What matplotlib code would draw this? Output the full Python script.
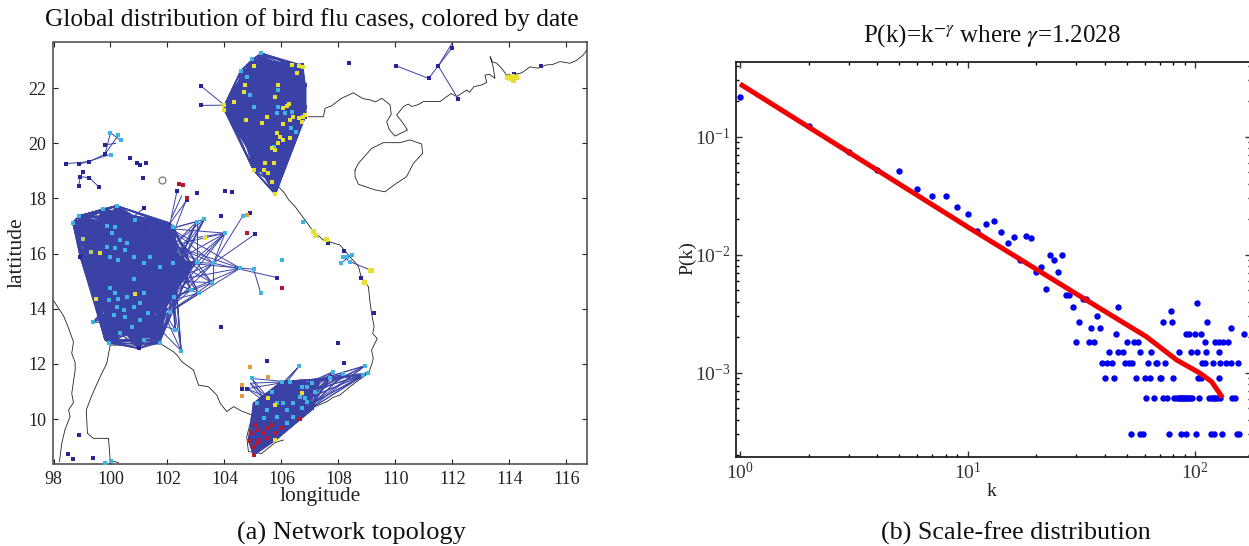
from itertools import combinations
import matplotlib
matplotlib.use('Agg')
import matplotlib.pyplot as plt
from matplotlib.collections import LineCollection

# ---- canvas ----
W, H = 1249, 546
plt.rcParams['font.family'] = ['Liberation Serif', 'DejaVu Serif']
plt.rcParams['mathtext.fontset'] = 'stix'

# ---- right panel data: degree distribution ----
k_vals = [1, 2, 3, 4, 5, 6, 7, 8, 9, 10, 11, 12, 13, 14, 15, 16, 17, 18, 19, 20, 21, 22, 23, 24, 25, 26,
          27, 28, 29, 30, 31, 32, 33, 34, 35, 36, 37, 38, 46, 45, 50, 54, 56, 42, 46, 48, 57, 64, 85, 96, 102, 111, 127,
          110, 122, 127, 132, 139, 91, 94, 100, 106, 164, 143, 72, 79, 113, 78, 102,
          39, 41, 43, 49, 51, 53, 62, 67, 68, 74, 107, 110, 120, 129, 136, 144, 154,
          40, 44, 55, 60, 63, 70, 71, 80, 103, 106, 127,
          61, 66, 72, 75, 81, 83, 85, 86, 87, 88, 89, 90, 92, 93, 95, 97, 104, 115, 118, 120, 122, 125, 128, 145, 149,
          52, 57, 59, 77, 87, 91, 101, 117, 121, 131, 152, 156]
p_vals = [0.216, 0.123, 0.0746, 0.0522, 0.0515, 0.0363, 0.0313, 0.0314, 0.0252, 0.022, 0.0159, 0.0183, 0.0194,
          0.01556, 0.01265, 0.0141, 0.00902, 0.0144, 0.01387, 0.00718, 0.00781, 0.00509, 0.00989, 0.00902, 0.00718, 0.01,
          0.00453, 0.00453, 0.00362, 0.00181, 0.0027, 0.00422, 0.00422, 0.00181, 0.0024, 0.00181, 0.0030, 0.0024,
          0.00361, 0.00211, 0.00181, 0.00181, 0.00181, 0.00151, 0.00151, 0.00151, 0.00151, 0.00151, 0.00151, 0.00151, 0.00151, 0.00151, 0.00151,
          0.00181, 0.00181, 0.00181, 0.00181, 0.00181, 0.00211, 0.00211, 0.00211, 0.00211, 0.00211, 0.0024, 0.0027, 0.0027, 0.0027, 0.00331, 0.00392,
          0.0012, 0.0012, 0.0012, 0.0012, 0.0012, 0.0012, 0.0012, 0.0012, 0.0012, 0.0012, 0.0012, 0.0012, 0.0012, 0.0012, 0.0012, 0.0012, 0.0012,
          0.0009, 0.0009, 0.0009, 0.0009, 0.0009, 0.0009, 0.0009, 0.0009, 0.0009, 0.0009, 0.0009,
          0.000606, 0.000606, 0.000606, 0.000606, 0.000606, 0.000606, 0.000606, 0.000606, 0.000606, 0.000606, 0.000606, 0.000606,
          0.000606, 0.000606, 0.000606, 0.000606, 0.000606, 0.000606, 0.000606, 0.000606, 0.000606, 0.000606, 0.000606, 0.000606, 0.000606,
          0.000303, 0.000303, 0.000303, 0.000303, 0.000303, 0.000303, 0.000303, 0.000303, 0.000303, 0.000303, 0.000303, 0.000303]
fit_k = [1, 10, 30, 61, 83, 105, 118, 132]
fit_p = [0.28, 0.0172, 0.00466, 0.00202, 0.00128, 0.00099, 0.00084, 0.000614]

# ---- left panel data: coastlines (lon, lat) ----
coast_north = [(116.71, 23.38), (116.59, 23.2), (116.35, 23.0), (116.12, 22.9), (115.77, 22.96), (115.5, 22.85), (115.3, 22.84),
               (115.0, 22.72), (114.72, 22.77), (114.5, 22.6), (114.37, 22.53), (113.9, 22.47), (113.73, 22.71), (113.55, 22.9),
               (113.4, 22.95), (113.32, 23.14), (113.42, 22.8), (113.49, 22.35), (113.3, 22.5), (113.14, 22.47), (113.2, 22.2), (113.02, 22.11),
               (112.75, 22.05), (112.6, 21.85), (112.5, 21.93), (112.15, 21.69), (111.95, 21.8), (111.8, 21.69), (111.56, 21.51), (110.98, 21.51),
               (110.8, 21.4), (110.57, 21.33), (110.45, 21.42), (110.28, 21.33), (110.04, 21.02), (110.25, 20.75), (110.42, 20.48), (109.98, 20.26),
               (109.78, 20.5), (109.69, 20.78), (109.85, 21.05), (109.81, 21.39), (109.52, 21.63), (109.3, 21.5), (109.11, 21.57), (108.85, 21.62),
               (108.52, 21.83), (108.3, 21.72), (108.11, 21.63), (107.75, 21.35), (107.53, 21.27), (107.47, 20.96), (106.94, 20.96)]
coast_east = [(105.78, 18.55), (106.1, 18.2), (106.25, 17.95), (106.48, 17.7), (106.8, 17.25), (107.12, 16.8), (107.47, 16.49), (108.05, 16.31),
              (108.4, 15.89), (108.7, 15.53), (108.81, 15.1), (109.05, 14.8), (109.1, 14.3), (109.16, 13.83), (109.25, 13.35), (109.2, 13.1), (109.36, 12.92),
              (109.16, 12.5), (109.22, 12.2), (109.16, 11.96), (109.05, 11.66), (108.7, 11.4), (108.4, 11.17), (108.05, 10.87), (107.8, 10.78), (107.59, 10.63),
              (107.18, 10.45), (107.0, 10.39)]
coast_south = [(106.07, 9.24), (105.78, 9.15), (105.3, 8.75), (104.84, 8.82), (104.78, 9.36), (104.9, 9.84), (104.96, 10.15)]
coast_gulf = [(104.96, 10.15), (104.62, 10.28), (104.32, 10.45), (104.08, 10.27), (103.85, 10.57), (103.73, 10.87), (103.44, 11.17), (103.09, 11.23),
              (103.0, 11.5), (102.91, 11.78), (102.5, 12.08), (102.35, 12.3), (102.21, 12.44), (101.74, 12.74), (101.04, 12.68), (99.99, 12.68), (99.87, 12.02),
              (99.64, 11.54), (99.35, 10.87), (99.15, 10.33), (99.19, 9.48), (99.4, 9.3), (99.93, 9.3), (99.99, 8.5), (100.28, 8.42)]
coast_west = [(98.0, 14.3), (98.12, 14.1), (98.18, 14.01), (98.35, 13.75), (98.53, 13.29), (98.7, 12.8), (98.64, 12.38), (98.76, 12.05), (98.76, 11.78), (98.64, 10.93),
              (98.7, 10.6), (98.53, 10.33), (98.58, 10.09), (98.4, 9.6), (98.29, 9.12), (98.21, 8.46)]
hainan = [(108.58, 19.03), (108.7, 19.27), (109.16, 19.81), (109.57, 20.02), (110.16, 20.02), (110.51, 20.12), (110.92, 19.97),
          (110.95, 19.63), (110.63, 19.27), (110.39, 18.79), (110.04, 18.55), (109.63, 18.24), (109.28, 18.31), (108.7, 18.51),
          (108.58, 18.79), (108.58, 19.03)]

# ---- left panel data: northern cluster ----
north_hull = [(104.0, 21.38), (104.96, 23.01), (105.6, 22.95), (106.2, 22.9), (106.71, 22.83), (106.83, 22.1), (106.83, 21.32),
              (106.83, 20.96), (106.42, 20.36), (106.07, 19.5), (105.78, 18.18), (105.02, 19.03), (104.84, 20.36), (105.3, 21.9),
              (105.9, 21.6), (106.2, 22.2), (105.5, 20.2), (105.9, 19.1), (105.4, 19.6), (106.3, 20.9)]
north_yellow = [(105.02, 22.8), (106.36, 22.83), (106.62, 22.81), (106.75, 22.77), (106.54, 22.56), (104.73, 22.11), (104.67, 21.87),
                (104.35, 21.5), (104.76, 20.86), (105.49, 20.94), (105.31, 20.72), (106.05, 20.7), (105.78, 21.69), (105.86, 22.11),
                (106.07, 21.26), (106.19, 21.35), (106.25, 21.41), (106.42, 20.96), (106.6, 20.9), (106.77, 20.96), (106.71, 20.78),
                (106.83, 21.02), (106.3, 20.84), (105.84, 20.36), (105.95, 20.24), (106.07, 20.12), (105.89, 20.0), (105.78, 19.75),
                (105.66, 19.81), (106.3, 20.18), (105.72, 19.27), (105.43, 19.27), (105.37, 19.03), (105.02, 19.03), (105.54, 18.91),
                (105.66, 18.6), (105.78, 18.15), (104.0, 21.38), (104.0, 21.2)]
north_cyan = [(104.98, 23.04), (105.29, 23.26), (104.57, 22.62), (104.78, 22.41), (105.87, 21.93), (104.9, 21.75), (105.05, 21.32),
              (105.89, 21.32), (105.84, 21.08), (106.13, 21.08), (106.36, 21.14), (106.33, 20.54), (106.51, 20.42), (105.72, 19.87)]

# ---- left panel data: central cluster ----
central_hull = [(98.68, 17.12), (98.9, 17.36), (99.73, 17.6), (100.22, 17.73), (100.81, 17.34), (102.09, 17.1), (102.3, 16.4), (102.85, 15.55),
                (102.4, 14.9), (101.8, 14.1), (101.72, 12.9), (101.0, 12.56), (99.95, 12.77), (99.81, 12.87), (99.64, 14.2), (99.3, 15.2),
                (98.94, 15.89), (101.5, 16.4), (101.3, 14.9), (100.3, 15.2), (102.3, 15.9), (102.0, 15.2), (101.2, 13.4), (99.4, 14.4)]
central_cyan = [(99.87, 17.0), (100.16, 16.98), (100.87, 17.22), (100.05, 16.74), (100.34, 16.5), (100.57, 16.37), (99.87, 16.25),
                (100.16, 16.19), (100.51, 16.13), (99.99, 15.89), (100.28, 15.77), (100.81, 15.89), (101.16, 15.65), (101.39, 15.89),
                (101.74, 15.53), (102.21, 15.65), (102.21, 16.98), (98.68, 17.12), (98.9, 17.36), (99.73, 17.6), (100.22, 17.73),
                (100.16, 14.56), (100.81, 15.08), (99.99, 14.74), (99.93, 14.31), (100.28, 14.37), (100.57, 14.43), (101.16, 14.56),
                (100.22, 14.07), (100.46, 13.96), (100.81, 14.07), (101.04, 14.2), (100.11, 13.77), (100.51, 13.71), (101.04, 13.59),
                (101.33, 13.83), (100.75, 13.35), (100.34, 13.11), (101.16, 12.87), (99.95, 12.77), (101.72, 12.77)]
central_spokes = [(103.03, 17.16), (103.29, 17.24), (104.02, 16.74), (103.03, 15.71), (103.61, 15.65), (104.55, 15.47), (102.82, 14.68),
                  (103.56, 14.95), (103.09, 14.56), (102.27, 13.23), (102.09, 13.89), (102.23, 14.44), (102.48, 12.47), (99.38, 13.51)]
central_gateways = [(102.1, 16.9), (102.2, 16.3), (102.25, 15.7), (102.1, 15.0), (101.7, 14.2), (101.5, 13.5)]
central_mixed = {'#e6e030': [(99.64, 16.01), (103.3, 16.58), (100.87, 14.53), (99.49, 14.37)],
                 '#a8d070': [(99.02, 16.52), (99.3, 16.05)],
                 '#26269a': [(98.94, 15.89), (101.0, 12.56)]}

# ---- left panel data: southern cluster ----
south_hull = [(105.02, 8.7), (104.84, 9.25), (105.02, 10.57), (105.54, 10.76), (106.01, 11.36), (106.7, 11.4), (107.35, 11.45),
              (107.12, 10.39), (106.65, 10.03), (105.78, 9.24), (105.5, 9.9), (106.2, 10.6), (106.9, 10.9)]
south_red = [(105.02, 8.7), (104.9, 9.22), (104.96, 9.48), (105.08, 9.78), (105.19, 9.6), (105.49, 9.66), (105.66, 9.78), (106.01, 9.66),
             (105.78, 9.48), (105.25, 9.24), (105.49, 9.3), (105.13, 9.12), (105.02, 9.0), (105.37, 9.48), (106.65, 10.0)]
south_cyan = [(105.13, 10.57), (105.49, 10.33), (105.37, 10.03), (105.84, 10.09), (106.19, 10.33), (106.42, 10.57), (106.65, 10.81),
              (106.07, 10.57), (105.84, 10.57), (106.42, 10.09), (106.19, 9.84), (106.89, 10.63), (107.18, 10.99), (106.71, 11.17),
              (106.3, 11.35), (106.01, 11.35), (105.66, 10.99), (107.06, 11.29), (106.88, 11.17), (106.83, 10.75), (106.71, 10.39)]
south_yellow = [(105.54, 10.75), (105.78, 10.51), (105.78, 9.24), (106.71, 10.93)]
south_spokes = [(107.82, 11.72), (107.7, 11.47), (108.17, 11.62), (108.93, 11.93), (109.05, 11.68), (108.87, 11.6)]
south_gateways = [(107.35, 11.45), (107.3, 11.1), (107.15, 10.6), (106.9, 10.3), (106.9, 11.3), (106.6, 10.6)]
south_top_spokes = [(104.96, 11.47), (104.9, 11.3), (104.8, 11.1), (106.62, 11.92)]
south_top_gateways = [(105.54, 10.76), (105.45, 10.6), (106.2, 11.35)]

# ---- left panel data: sparse sites and links ----
sites_dark = [(103.18, 22.07), (103.17, 21.37), (98.43, 19.26), (98.91, 19.24), (99.26, 19.33), (99.81, 19.61), (99.81, 19.94),
              (98.94, 18.79), (99.05, 18.97), (99.26, 18.75), (98.88, 18.45), (99.58, 18.43), (100.69, 19.45), (100.92, 19.3),
              (101.02, 19.2), (101.23, 19.29), (101.15, 18.75), (103.05, 18.2), (104.02, 18.27), (104.26, 18.23), (103.87, 17.36),
              (104.9, 17.46), (105.08, 16.71), (101.16, 17.64), (105.84, 15.13), (103.87, 13.32), (102.33, 18.25), (102.68, 17.94),
              (98.91, 9.42), (98.5, 8.72), (98.68, 8.54), (99.4, 8.6), (105.48, 12.11), (104.61, 11.1), (104.8, 11.1), (104.96, 11.47),
              (108.38, 22.9), (110.02, 22.81), (111.16, 22.35), (111.5, 22.8), (111.97, 23.44), (112.21, 21.59), (115.09, 22.81),
              (114.17, 22.5), (107.62, 16.37), (108.2, 16.11), (108.78, 15.1), (109.25, 13.83), (108.0, 12.74), (108.21, 12.02)]
sites_cyan = [(100.0, 20.38), (100.02, 19.56), (100.28, 20.3), (100.36, 20.1), (104.64, 17.36), (106.01, 15.78), (105.27, 14.58),
              (105.02, 15.43), (99.81, 8.42), (100.02, 8.48), (106.74, 17.16), (108.17, 15.89), (108.46, 15.95), (108.08, 15.65),
              (108.4, 15.71), (108.29, 15.89), (108.93, 11.93), (109.05, 11.68), (108.87, 11.6), (107.82, 11.72), (107.7, 11.47),
              (108.17, 11.62), (106.62, 11.92), (102.09, 13.89), (102.27, 13.23), (102.23, 14.44), (103.09, 14.56), (102.82, 14.68),
              (103.56, 14.95), (103.03, 17.16), (103.29, 17.24), (104.02, 16.74), (103.03, 15.71), (103.61, 15.65), (104.55, 15.47),
              (99.38, 13.51), (102.48, 12.47), (104.96, 11.47)]
sites_yellow = [(107.12, 16.8), (107.18, 16.68), (107.56, 16.52), (109.1, 15.41), (108.91, 14.98), (109.13, 15.4), (113.9, 22.39),
                (114.02, 22.35), (114.14, 22.29), (114.23, 22.39), (114.08, 22.42)]
sites_orange = [(104.61, 11.23), (104.61, 10.83), (104.88, 11.87), (105.52, 11.51), (104.78, 17.39)]
sites_red = [(102.54, 18.49), (102.42, 18.52), (102.68, 18.0), (104.78, 16.73), (106.03, 14.76)]
open_site = [(101.79, 18.67)]
links = [((103.18, 22.07), (104.0, 21.38)), ((103.17, 21.37), (104.0, 21.38)), ((98.43, 19.26), (99.26, 19.33)),
         ((99.26, 19.33), (99.81, 19.61)), ((98.91, 19.24), (100.02, 19.6)), ((99.81, 19.61), (100.0, 20.38)), ((99.81, 19.61), (100.28, 20.3)),
         ((100.0, 20.38), (100.36, 20.1)), ((99.81, 19.94), (100.2, 20.0)), ((98.94, 18.79), (98.88, 18.45)), ((98.94, 18.79), (99.26, 18.75)),
         ((99.05, 18.97), (98.94, 18.79)), ((99.26, 18.75), (99.58, 18.43)), ((110.02, 22.81), (111.16, 22.35)), ((111.16, 22.35), (111.5, 22.8)),
         ((111.5, 22.8), (112.0, 23.65)), ((111.5, 22.8), (111.97, 23.44)), ((111.5, 22.8), (112.21, 21.59)), ((100.81, 17.34), (101.16, 17.64)),
         ((102.09, 17.1), (102.33, 18.25)), ((102.09, 17.1), (102.68, 17.94)), ((102.3, 17.0), (102.68, 18.0)), ((102.15, 17.3), (102.5, 18.1)),
         ((103.61, 15.65), (104.02, 16.74)), ((103.61, 15.65), (105.08, 16.71)), ((103.61, 15.65), (104.64, 17.36)), ((103.61, 15.65), (105.84, 15.13)),
         ((105.02, 15.43), (105.27, 14.58)), ((104.55, 15.47), (105.02, 15.43)), ((103.61, 15.65), (103.61, 14.95)), ((103.03, 16.58), (104.02, 16.74)),
         ((103.03, 15.71), (103.03, 17.16)), ((108.08, 15.65), (108.46, 15.95)), ((108.17, 15.89), (108.4, 15.71)), ((108.4, 15.71), (109.1, 15.41))]

# ---- tick labels and text ----
lon_ticks = [98, 100, 102, 104, 106, 108, 110, 112, 114, 116]
lat_ticks = [10, 12, 14, 16, 18, 20, 22]
colour_edge = '#3a42a6'
colour_dark = '#26269a'
colour_cyan = '#3fb4e2'
colour_yellow = '#e6e030'
colour_orange = '#e89a3a'
colour_red = '#b8182e'


def px_axes(x0, y0, x1, y1):
    return fig.add_axes([x0 / W, 1 - y1 / H, (x1 - x0) / W, (y1 - y0) / H])


def all_pairs(nodes):
    return list(combinations(nodes, 2))


def fan(spokes, gateways):
    return [(s, g) for s in spokes for g in gateways]


def sites(ax, nodes, colour, size=3.2):
    ax.plot([n[0] for n in nodes], [n[1] for n in nodes], ls='none', marker='s', ms=size, mfc=colour, mec=colour, mew=0, zorder=5)


fig = plt.figure(figsize=(W / 100, H / 100), dpi=100)

# ==== (a) map ====
ax1 = px_axes(53.5, 42, 587, 464)
ax1.set_xlim(98, 116.72)
ax1.set_ylim(8.37, 23.67)
for line in [coast_north, coast_east, coast_south, coast_gulf, coast_west, hainan]:
    ax1.plot([p[0] for p in line], [p[1] for p in line], color='#222222', lw=0.6, zorder=1)

north_nodes = north_hull + north_yellow + north_cyan
central_nodes = central_hull + central_cyan
south_nodes = south_hull + south_red + south_cyan + south_yellow
dense = all_pairs(north_nodes) + all_pairs(central_nodes) + all_pairs(south_nodes)
ax1.add_collection(LineCollection(dense, colors=colour_edge, linewidths=1.0, zorder=2))
sparse = fan(central_spokes, central_gateways) + fan(south_spokes, south_gateways) + fan(south_top_spokes, south_top_gateways) + links
ax1.add_collection(LineCollection(sparse, colors=colour_edge, linewidths=0.7, zorder=2))

sites(ax1, north_hull, colour_edge)
sites(ax1, north_cyan, colour_cyan)
sites(ax1, north_yellow, colour_yellow)
sites(ax1, central_cyan, colour_cyan)
for colour, nodes in central_mixed.items():
    sites(ax1, nodes, colour)
sites(ax1, south_cyan, colour_cyan)
sites(ax1, south_red, colour_red)
sites(ax1, south_yellow, colour_yellow)
sites(ax1, sites_dark, colour_dark)
sites(ax1, sites_cyan, colour_cyan)
sites(ax1, sites_yellow, colour_yellow, 3.6)
sites(ax1, sites_orange, colour_orange)
sites(ax1, sites_red, colour_red)
ax1.plot([p[0] for p in open_site], [p[1] for p in open_site], ls='none', marker='o', ms=5, mfc='white', mec='#777777', mew=0.9)

ax1.set_xticks(lon_ticks)
ax1.set_yticks(lat_ticks)
ax1.tick_params(direction='in', length=3.5, width=0.8, top=True, right=True, labelsize=13, pad=5, colors='#222222')
for s in ax1.spines.values():
    s.set_linewidth(1.1)
    s.set_color('#444444')
fig.text(320 / W, 1 - 496 / H, 'longitude', fontsize=15.5, ha='center', va='center', color='#222222')
fig.text(17 / W, 1 - 253 / H, 'lattitude', fontsize=15.5, ha='center', va='center', rotation=90, color='#222222')
fig.text(312 / W, 1 - 20 / H, 'Global distribution of bird flu cases, colored by date', fontsize=18.4, ha='center', va='center', color='#111111')
fig.text(351 / W, 1 - 533 / H, '(a) Network topology', fontsize=19, ha='center', va='center', color='#111111')

# ==== (b) scale-free distribution ====
ax2 = px_axes(735.7, 61.7, 1250.5, 456.7)
ax2.set_xscale('log')
ax2.set_yscale('log')
ax2.plot(k_vals, p_vals, ls='none', marker='o', ms=4.6, mfc='#0000ee', mec='#0000ee', mew=0, zorder=3)
ax2.plot(fit_k, fit_p, color='#f00000', lw=3.6, zorder=4, solid_capstyle='butt')
ax2.set_xlim(0.957, 175)
ax2.set_ylim(10 ** -3.712, 10 ** -0.364)
ax2.tick_params(which='major', direction='in', length=4, width=1, top=True, right=True, labelsize=14, colors='#333333', pad=4)
ax2.tick_params(which='minor', direction='in', length=2.5, width=1, top=True, right=True)
for s in ax2.spines.values():
    s.set_linewidth(1.2)
    s.set_color('#111111')
fig.text(992 / W, 1 - 36 / H, r'P(k)=k$^{-\gamma}$ where $\gamma$=1.2028', fontsize=18, ha='center', va='center', color='#111111')
fig.text(992 / W, 1 - 492 / H, 'k', fontsize=14, ha='center', va='center', color='#222222')
fig.text(688 / W, 1 - 258 / H, 'P(k)', fontsize=14, ha='center', va='center', rotation=90, color='#222222')
fig.text(1016 / W, 1 - 533 / H, '(b) Scale-free distribution', fontsize=18.8, ha='center', va='center', color='#111111')

fig.savefig('out.png', dpi=100)
